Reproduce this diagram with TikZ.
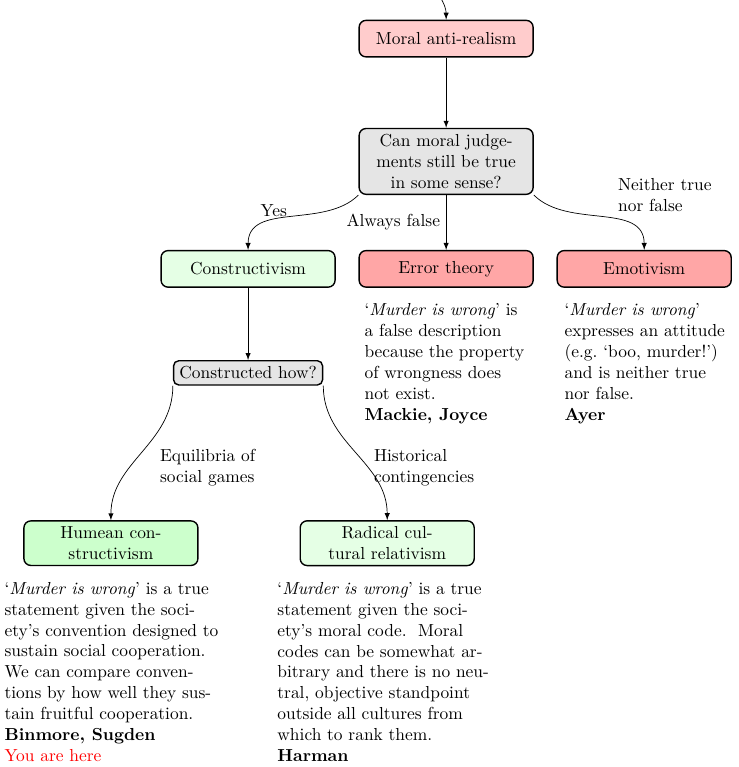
\documentclass[tikz,border=0pt]{standalone}
\usepackage{amsmath,amssymb}
\usetikzlibrary{positioning,arrows}

\begin{document}
\begin{tikzpicture}[
    boite/.style={draw, thick, rounded corners, minimum width=100pt, minimum height=21pt, align=center},
    interro/.style={boite, fill=gray!20},
    antireal/.style={boite, fill=red!20},
    rejet/.style={boite, fill=red!35},
    constr/.style={boite, fill=green!10},
    humeen/.style={boite, fill=green!20},
    texte/.style={align=left, anchor=north west},
    etiq/.style={align=left},
    fleche/.style={-latex}
  ]
    \useasboundingbox (0,0) rectangle (14.91,-15.49);

    % Les boites
    \node[antireal] (anti) at (9.01,-0.78) {Moral anti-realism};
    \node[interro] (jugement) at (9.01,-3.26) {Can moral judge-\\ments still be true\\in some sense?};
    \node[constr] (constr) at (5.01,-5.43) {Constructivism};
    \node[rejet] (erreur) at (9.01,-5.43) {Error theory};
    \node[rejet] (emotiv) at (13.01,-5.43) {Emotivism};
    \node[interro, minimum width=0pt, minimum height=0pt, rounded corners=3pt] (comment) at (5.01,-7.53) {Constructed how?};
    \node[humeen] (hume) at (2.24,-10.97) {Humean con-\\structivism};
    \node[constr] (relat) at (7.82,-10.97) {Radical cul-\\tural relativism};

    % Les fleches
    \coordinate (amont) at (8.86,0.1);
    \draw[fleche] (amont) to[out=-55,in=90] (anti);
    \draw[fleche] (anti) -- (jugement);
    \draw[fleche] (jugement.south west) to[out=-135,in=90] (constr);
    \draw[fleche] (jugement) -- node[left] (faux) {Always false} (erreur);
    \draw[fleche] (jugement.south east) to[out=-45,in=90] (emotiv);
    \draw[fleche] (constr) -- (comment);
    \draw[fleche] (comment.south west) to[out=-90,in=90] (hume);
    \draw[fleche] (comment.south east) to[out=-90,in=90] (relat);

    \node (oui) at (5.53,-4.26) {Yes};
    \node[etiq, anchor=west] (nini) at (12.36,-3.94) {Neither true\\nor false};
    \node[etiq, anchor=west] (equil) at (3.11,-9.44) {Equilibria of\\social games};
    \node[etiq, anchor=west] (histo) at (7.43,-9.44) {Historical\\contingencies};

    % Les descriptions
    \node[texte] (d-erreur) at ([yshift=-2mm]erreur.south west) {`\textit{Murder is wrong}' is\\a false description\\because the property\\of wrongness does\\not exist.\\\textbf{Mackie, Joyce}};
    \node[texte] (d-emotiv) at ([xshift=0.04cm,yshift=-2mm]emotiv.south west) {`\textit{Murder is wrong}'\\expresses an attitude\\(e.g.\ `boo, murder!')\\and is neither true\\nor false.\\\textbf{Ayer}};
    \node[texte] (d-hume) at ([xshift=-0.5cm,yshift=-2mm]hume.south west) {`\textit{Murder is wrong}' is a true\\statement given the soci-\\ety's convention designed to\\sustain social cooperation.\\We can compare conven-\\tions by how well they sus-\\tain fruitful cooperation.\\\textbf{Binmore, Sugden}\\\textcolor{red}{You are here}}; % vous etes ici
    \node[texte] (d-relat) at ([xshift=-0.57cm,yshift=-2mm]relat.south west) {`\textit{Murder is wrong}' is a true\\statement given the soci-\\ety's moral code.\ \ Moral\\codes can be somewhat ar-\\bitrary and there is no neu-\\tral, objective standpoint\\outside all cultures from\\which to rank them.\\\textbf{Harman}};
\end{tikzpicture}
\end{document}
